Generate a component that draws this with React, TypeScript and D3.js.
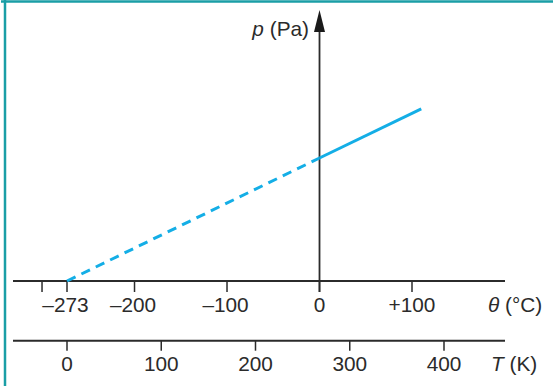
import React from "react";
import * as d3 from "d3";

// Extrapolated (dashed) part: θ in °C and relative pressure
const dashedTheta = [-273, 0];
const dashedP = [0, 100];
// Measured (solid) part
const solidTheta = [0, 110];
const solidP = [100, 140];

// Celsius axis ticks and labels
const celsiusTicks = [-300, -273, -200, -100, 0, 100];
const celsiusLabels = ["", "\u2013273", "\u2013200", "\u2013100", "0", "+100"];
// Kelvin axis ticks and labels
const kelvinTicks = [0, 100, 200, 300, 400];
const kelvinLabels = ["0", "100", "200", "300", "400"];

const W = 553;
const H = 386;
const FONT = "'Liberation Sans', Arial, Helvetica, sans-serif";
const FS = 20.8;
const TEXT = "#2b2b2b";
const AXIS = "#2b2b2b";
const BLUE = "#14aee6";
const TEAL = "#1a9ea6";

export default function App() {
  const xC = d3.scaleLinear().domain([-273, 100]).range([67, 412]);
  const xK = d3.scaleLinear().domain([0, 400]).range([67, 444]);
  const y = d3.scaleLinear().domain([0, 100]).range([281, 158]);

  const topAxisY = y(0);
  const bottomAxisY = 340.7;
  const axisX0 = 13;
  const axisX1 = 505;
  const tickLen = 11;

  const line = d3
    .line<[number, number]>()
    .x((d) => xC(d[0]))
    .y((d) => y(d[1]));

  const dashedPts = dashedTheta.map((t, i) => [t, dashedP[i]] as [number, number]);
  const solidPts = solidTheta.map((t, i) => [t, solidP[i]] as [number, number]);

  const vx = xC(0);
  const tipY = 10;

  return (
    <div style={{ position: "fixed", left: 0, top: 0 }}>
      <svg width={W} height={H} style={{ display: "block", background: "#fff" }}>
        {/* frame */}
        <line x1={1} y1={1.5} x2={W} y2={1.5} stroke={TEAL} strokeWidth={2.5} />
        <line x1={5} y1={0} x2={5} y2={H} stroke={TEAL} strokeWidth={2.5} />

        {/* celsius axis */}
        <line x1={axisX0} y1={topAxisY} x2={axisX1} y2={topAxisY} stroke={AXIS} strokeWidth={1.8} />
        {celsiusTicks.map((t, i) => (
          <g key={"c" + t}>
            <line
              x1={xC(t)}
              x2={xC(t)}
              y1={topAxisY}
              y2={topAxisY + tickLen}
              stroke={AXIS}
              strokeWidth={1.5}
            />
            {celsiusLabels[i] && (
              <text
                x={xC(t) - (t < 0 ? 1.5 : 0)}
                y={312}
                textAnchor="middle"
                fontFamily={FONT}
                fontSize={FS}
                fill={TEXT}
              >
                {celsiusLabels[i]}
              </text>
            )}
          </g>
        ))}
        <text x={488} y={312} fontFamily={FONT} fontSize={FS} fill={TEXT}>
          <tspan fontStyle="italic">θ</tspan> (°C)
        </text>

        {/* kelvin axis */}
        <line x1={axisX0} y1={bottomAxisY} x2={axisX1} y2={bottomAxisY} stroke={AXIS} strokeWidth={2} />
        {kelvinTicks.map((t, i) => (
          <g key={"k" + t}>
            <line
              x1={xK(t)}
              x2={xK(t)}
              y1={bottomAxisY}
              y2={bottomAxisY + tickLen - 1}
              stroke={AXIS}
              strokeWidth={1.5}
            />
            <text x={xK(t)} y={371} textAnchor="middle" fontFamily={FONT} fontSize={FS} fill={TEXT}>
              {kelvinLabels[i]}
            </text>
          </g>
        ))}
        <text x={491} y={371} fontFamily={FONT} fontSize={FS} fill={TEXT}>
          <tspan fontStyle="italic">T</tspan> (K)
        </text>

        {/* pressure axis */}
        <line x1={vx} y1={topAxisY + tickLen} x2={vx} y2={tipY + 15} stroke={AXIS} strokeWidth={1.8} />
        <polygon
          points={`${vx},${tipY} ${vx - 5.5},${tipY + 22} ${vx + 5.5},${tipY + 22}`}
          fill="#1a1a1a"
        />
        <text x={309} y={36} textAnchor="end" fontFamily={FONT} fontSize={FS} fill={TEXT}>
          <tspan fontStyle="italic">p</tspan> (Pa)
        </text>

        {/* data lines */}
        <path
          d={line(dashedPts) || ""}
          fill="none"
          stroke={BLUE}
          strokeWidth={3}
          strokeDasharray="9.5 6.5"
        />
        <path d={line(solidPts) || ""} fill="none" stroke={BLUE} strokeWidth={3} />
      </svg>
    </div>
  );
}
